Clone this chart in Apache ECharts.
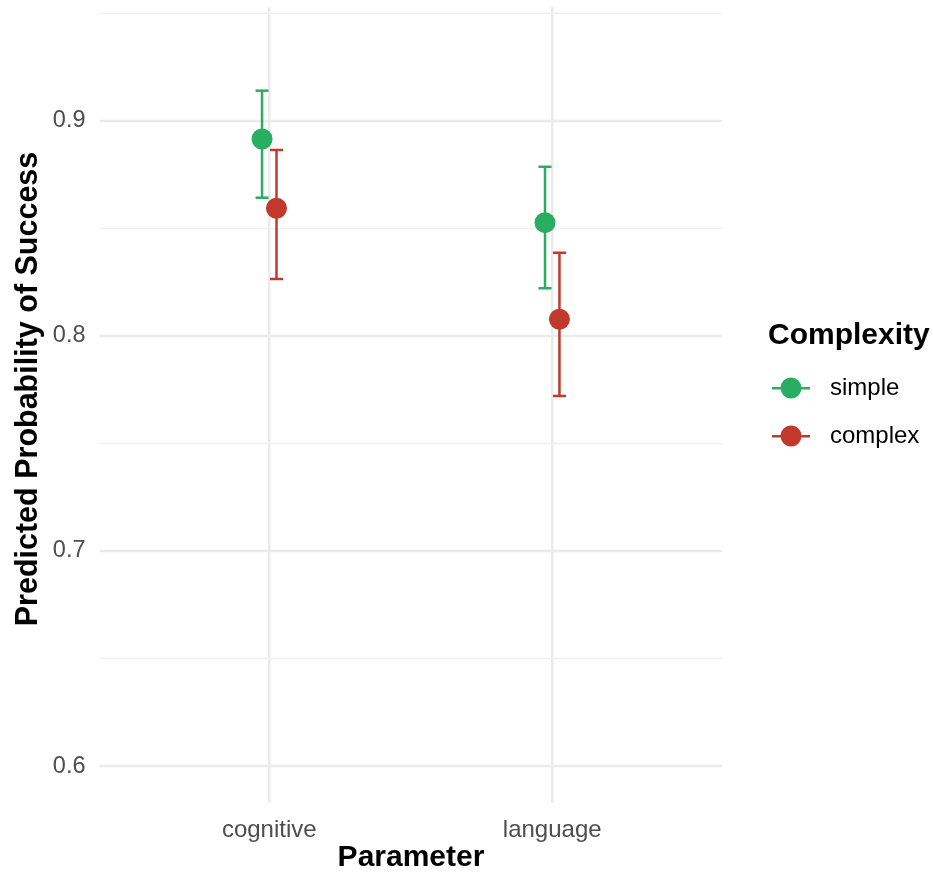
<!DOCTYPE html>
<html>
<head>
<meta charset="utf-8">
<script src="https://cdn.jsdelivr.net/npm/echarts@6/dist/echarts.min.js"></script>
<style>html,body{margin:0;padding:0;background:#fff}#c{width:933px;height:872px}</style>
</head>
<body>
<div id="c"></div>
<script>
var categories = ['cognitive', 'language'];
var groups = ['simple', 'complex'];
var simpleMean = [0.8916, 0.8527];
var simpleLow = [0.8643, 0.8222];
var simpleHigh = [0.9141, 0.8787];
var complexMean = [0.8594, 0.8078];
var complexLow = [0.8265, 0.7721];
var complexHigh = [0.8865, 0.8387];
var yTicks = [0.6, 0.7, 0.8, 0.9];
var yMinor = [0.65, 0.75, 0.85, 0.95];

var colors = {simple: '#27AE60', complex: '#C0392B'};
var dodge = 0.0255;
var FONT = '"Liberation Sans", Arial, Helvetica, sans-serif';

function pts(mean, off) {
  return mean.map(function (v, i) { return [i + 1 + off, v]; });
}
function bars(low, high, off) {
  return low.map(function (v, i) { return [i + 1 + off, v, high[i]]; });
}
function renderErr(params, api) {
  var x = api.value(0), lo = api.value(1), hi = api.value(2);
  var cw = 0.023;
  var pLo = api.coord([x, lo]), pHi = api.coord([x, hi]);
  var tl = api.coord([x - cw, hi]), tr = api.coord([x + cw, hi]);
  var bl = api.coord([x - cw, lo]), br = api.coord([x + cw, lo]);
  var st = {stroke: api.visual('color'), lineWidth: 2.5};
  return {type: 'group', children: [
    {type: 'line', shape: {x1: pLo[0], y1: pLo[1], x2: pHi[0], y2: pHi[1]}, style: st},
    {type: 'line', shape: {x1: tl[0], y1: tl[1], x2: tr[0], y2: tr[1]}, style: st},
    {type: 'line', shape: {x1: bl[0], y1: bl[1], x2: br[0], y2: br[1]}, style: st}
  ]};
}

// gridline items: [kind, value]; kind 0 = vertical major, 1 = horizontal major, 2 = horizontal minor
var gridData = [];
categories.forEach(function (c, i) { gridData.push([0, i + 1]); });
yTicks.forEach(function (v) { gridData.push([1, v]); });
yMinor.forEach(function (v) { gridData.push([2, v]); });

function renderGrid(params, api) {
  var kind = api.value(0), v = api.value(1);
  var cs = params.coordSys;
  if (kind === 0) {
    var px = api.coord([v, 0.7])[0];
    return {type: 'line', shape: {x1: px, y1: cs.y, x2: px, y2: cs.y + cs.height},
      style: {stroke: '#EBEBEB', lineWidth: 2.5}};
  }
  var py = api.coord([1, v])[1];
  return {type: 'line', shape: {x1: cs.x, y1: py, x2: cs.x + cs.width, y2: py},
    style: {stroke: kind === 1 ? '#EBEBEB' : '#F0F0F0', lineWidth: kind === 1 ? 2.5 : 1.3}};
}

var icon = 'path://M0,10 L38,10 L38,12.5 L0,12.5 Z M19,0.5 A10.5,10.5 0 1 1 19,21.5 A10.5,10.5 0 1 1 19,0.5 Z';

var chart = echarts.init(document.getElementById('c'));
chart.setOption({
  animation: false,
  backgroundColor: '#fff',
  grid: {left: 99.5, right: 211, top: 7, bottom: 69, containLabel: false},
  xAxis: {
    type: 'value', min: 0.4, max: 2.6,
    axisLine: {show: false}, axisTick: {show: false}, splitLine: {show: false},
    axisLabel: {
      customValues: [1, 2], margin: 15, color: '#4D4D4D', fontSize: 24, fontFamily: FONT,
      formatter: function (v) { return categories[Math.round(v) - 1] || ''; }
    }
  },
  yAxis: {
    type: 'value', min: 0.5828, max: 0.953,
    axisLine: {show: false}, axisTick: {show: false}, splitLine: {show: false},
    axisLabel: {
      customValues: yTicks, margin: 14, color: '#4D4D4D', fontSize: 23.5, fontFamily: FONT,
      padding: [4, 0, 0, 0],
      formatter: function (v) { return v.toFixed(1); }
    }
  },
  legend: {
    orient: 'vertical', left: 772, top: 376, padding: 0,
    itemWidth: 38, itemHeight: 21, itemGap: 24,
    data: [{name: 'simple', icon: icon}, {name: 'complex', icon: icon}],
    textStyle: {color: '#000', fontSize: 24, lineHeight: 21, fontFamily: FONT, padding: [0, 0, 0, 15]},
    selectedMode: false
  },
  graphic: [
    {type: 'text', left: 768, top: 321, style: {text: 'Complexity', font: 'bold 30px ' + FONT, fill: '#000'}},
    {type: 'text', x: 29, y: 389, rotation: Math.PI / 2,
      style: {text: 'Predicted Probability of Success', font: 'bold 30.5px ' + FONT, fill: '#000', align: 'center', verticalAlign: 'middle'}},
    {type: 'text', x: 411, y: 858,
      style: {text: 'Parameter', font: 'bold 30px ' + FONT, fill: '#000', align: 'center', verticalAlign: 'middle'}}
  ],
  series: [
    {type: 'custom', name: 'grid', renderItem: renderGrid, data: gridData, silent: true, z: 0,
      encode: {x: -1, y: -1}, clip: false},
    {type: 'custom', name: 'simple', renderItem: renderErr, data: bars(simpleLow, simpleHigh, -dodge),
      itemStyle: {color: colors.simple}, encode: {x: 0, y: [1, 2]}, z: 2},
    {type: 'custom', name: 'complex', renderItem: renderErr, data: bars(complexLow, complexHigh, dodge),
      itemStyle: {color: colors.complex}, encode: {x: 0, y: [1, 2]}, z: 2},
    {type: 'scatter', name: 'simple', data: pts(simpleMean, -dodge), symbolSize: 21,
      itemStyle: {color: colors.simple, opacity: 1}, z: 3},
    {type: 'scatter', name: 'complex', data: pts(complexMean, dodge), symbolSize: 21,
      itemStyle: {color: colors.complex, opacity: 1}, z: 3}
  ]
});
</script>
</body>
</html>
